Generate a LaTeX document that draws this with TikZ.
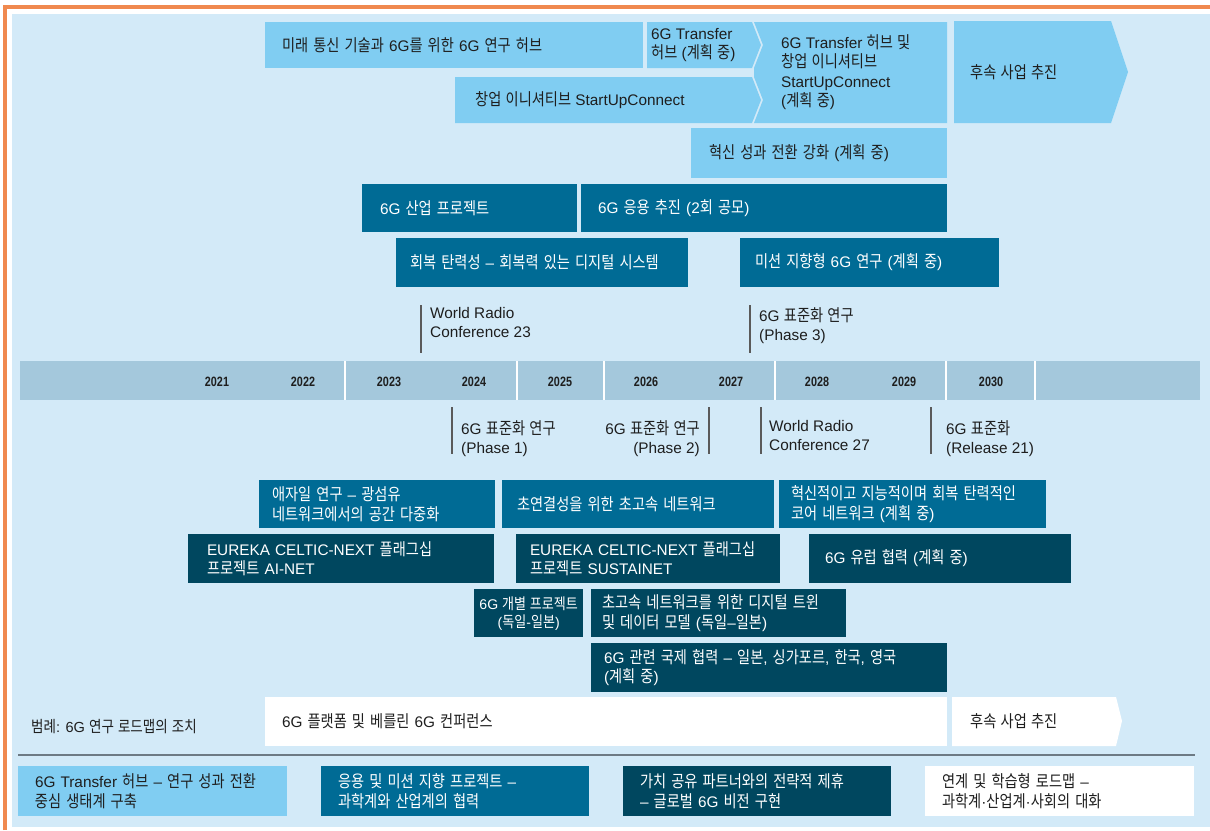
\documentclass[tikz,border=0pt]{standalone}
\usepackage{fontspec}
\setmainfont[Scale=1.08]{Liberation Sans}
\newfontfamily\krfont[Scale=1.18,FakeStretch=0.85]{Noto Sans CJK KR}
\newfontfamily\yearfont[FakeStretch=0.8]{Liberation Sans}
% Hangul syllables switch to the Korean font, the rest stays Latin
\XeTeXinterchartokenstate=1
\newXeTeXintercharclass\hangulcls
\newcount\hgc
\hgc="AC00
\loop
  \XeTeXcharclass\hgc=\hangulcls
  \ifnum\hgc<"D7A3 \advance\hgc by 1
\repeat
\XeTeXinterchartoks 0 \hangulcls = {\krfont}
\XeTeXinterchartoks 4095 \hangulcls = {\krfont}
\XeTeXinterchartoks \hangulcls 0 = {\rmfamily}
\XeTeXinterchartoks \hangulcls 4095 = {\rmfamily}
\usepackage{tikz}
\usetikzlibrary{positioning}
\definecolor{bgc}{HTML}{D3EAF8}
\definecolor{orng}{HTML}{F0894F}
\definecolor{skyc}{HTML}{80CDF2}
\definecolor{midc}{HTML}{006B95}
\definecolor{darkc}{HTML}{00475F}
\definecolor{barc}{HTML}{A4C8DC}
\definecolor{tickc}{HTML}{5A5A5A}
\definecolor{sepc}{HTML}{6D7A84}
\definecolor{txtc}{HTML}{1E1E1E}
\newcommand\boxfont{\fontsize{14.2}{19.5}\selectfont}
\tikzset{bx/.style n args={3}{anchor=north west,minimum height=#2pt,inner xsep=#3pt,inner ysep=0pt,outer sep=0pt,text width=#1pt-2*#3pt,align=left,font=\boxfont}}
\tikzset{skybox/.style={fill=skyc,text=txtc}}
\tikzset{midbox/.style={fill=midc,text=white}}
\tikzset{darkbox/.style={fill=darkc,text=white}}
\tikzset{whitebox/.style={fill=white,text=txtc}}
\tikzset{lbl/.style={anchor=west,align=left,inner sep=0pt,font=\boxfont,text=txtc}}
\tikzset{mile/.style={anchor=north west,align=left,inner sep=0pt,font=\boxfont,text=txtc}}
\tikzset{tick/.style={draw=tickc,line width=1.4pt}}
\tikzset{yr/.style={font=\yearfont\fontsize{13.5}{15}\selectfont\bfseries,text=txtc,inner sep=0pt}}

\begin{document}
\begin{tikzpicture}[x=1pt,y=-1pt]
    \useasboundingbox (0,0) rectangle (1210,830);
    \fill[bgc] (12,14) rectangle (1210,827);
    \draw[orng,line width=3.5pt] (5,830) -- (5,7) -- (1210,7);

    % top rows
    \node[bx={378}{46}{17},skybox] (hub) at (265,22) {미래 통신 기술과 6G를 위한 6G 연구 허브};
    \fill[skyc] (647,22) -- (752,22) -- (761,45) -- (752,68) -- (647,68) -- cycle;
    \node[lbl] (tfhub) at (651,45) {6G Transfer\\허브 (계획 중)};
    \fill[skyc] (455,77) -- (752,77) -- (761,100) -- (752,123) -- (455,123) -- cycle;
    \node[lbl] (suc) at (475,100) {창업 이니셔티브 StartUpConnect};
    \fill[skyc] (754,22) -- (947,22) -- (947,123) -- (754,123) -- (763,100) -- (754,77) -- (754,68) -- (763,45) -- cycle;
    \node[lbl] (tfsuc) at (781,72) {6G Transfer 허브 및\\창업 이니셔티브\\StartUpConnect\\(계획 중)};
    \fill[skyc] (954,21) -- (1111,21) -- (1128,72) -- (1111,123) -- (954,123) -- cycle;
    \node[lbl] (follow) at (970,72) {후속 사업 추진};
    \node[bx={256}{50}{18},skybox] (boost) at (691,128) {혁신 성과 전환 강화 (계획 중)};
    \node[bx={215}{48}{18},midbox] (indus) at (362,184) {6G 산업 프로젝트};
    \node[bx={366}{48}{17},midbox] (appl) at (581,184) {6G 응용 추진 (2회 공모)};
    \node[bx={292}{49}{14},midbox] (resil) at (396,238) {회복 탄력성 – 회복력 있는 디지털 시스템};
    \node[bx={259}{49}{15},midbox] (mission) at (740,238) {미션 지향형 6G 연구 (계획 중)};

    % milestones above
    \node[mile] (wrc23) at (430,307) {World Radio\\Conference 23};
    \draw[tick] (421,305) -- (421,353);
    \node[mile] (ph3) at (759,307) {6G 표준화 연구\\(Phase 3)};
    \draw[tick] (750,305) -- (750,353);

    % time bar
    \fill[barc] (20,361) rectangle (1200,400);
    \draw[white,line width=1.3pt] (345,361) -- (345,400) (517,361) -- (517,400) (604,361) -- (604,400)
        (775,361) -- (775,400) (946,361) -- (946,400) (1035,361) -- (1035,400);
    \node[yr] (y2021) at (217,382) {2021};
    \node[yr] (y2022) at (303,382) {2022};
    \node[yr] (y2023) at (389,382) {2023};
    \node[yr] (y2024) at (474,382) {2024};
    \node[yr] (y2025) at (560,382) {2025};
    \node[yr] (y2026) at (646,382) {2026};
    \node[yr] (y2027) at (731,382) {2027};
    \node[yr] (y2028) at (817,382) {2028};
    \node[yr] (y2029) at (904,382) {2029};
    \node[yr] (y2030) at (991,382) {2030};

    % milestones below
    \node[mile] (ph1) at (461,420) {6G 표준화 연구\\(Phase 1)};
    \draw[tick] (452,407) -- (452,454);
    \node[mile,anchor=north east,align=right] (ph2) at (700,420) {6G 표준화 연구\\(Phase 2)};
    \draw[tick] (709,407) -- (709,454);
    \node[mile] (wrc27) at (769,420) {World Radio\\Conference 27};
    \draw[tick] (761,407) -- (761,454);
    \node[mile] (rel21) at (946,420) {6G 표준화\\(Release 21)};
    \draw[tick] (931,407) -- (931,454);

    % bottom rows
    \node[bx={236}{48}{13},midbox] (agile) at (259,480) {애자일 연구 – 광섬유\\네트워크에서의 공간 다중화};
    \node[bx={272}{48}{15},midbox] (hyper) at (502,480) {초연결성을 위한 초고속 네트워크};
    \node[bx={267}{48}{12},midbox] (core) at (779,480) {혁신적이고 지능적이며 회복 탄력적인\\코어 네트워크 (계획 중)};
    \node[bx={306}{49}{19},darkbox] (ainet) at (188,534) {EUREKA CELTIC-NEXT 플래그십\\프로젝트 AI-NET};
    \node[bx={264}{49}{14},darkbox] (sustain) at (516,534) {EUREKA CELTIC-NEXT 플래그십\\프로젝트 SUSTAINET};
    \node[bx={262}{49}{16},darkbox] (eucoop) at (809,534) {6G 유럽 협력 (계획 중)};
    \node[darkbox,anchor=north west,minimum width=109pt,minimum height=48pt,inner sep=0pt,align=center,
        font=\fontsize{13}{18}\selectfont] (indiv) at (474,589) {6G 개별 프로젝트\\(독일-일본)};
    \node[bx={255}{48}{11},darkbox] (twin) at (591,589) {초고속 네트워크를 위한 디지털 트윈\\및 데이터 모델 (독일–일본)};
    \node[bx={356}{49}{13},darkbox] (intl) at (591,643) {6G 관련 국제 협력 – 일본, 싱가포르, 한국, 영국\\(계획 중)};

    % platform row
    \node[lbl,font=\fontsize{13.5}{16}\selectfont] (legend) at (31,727) {범례: 6G 연구 로드맵의 조치};
    \node[bx={682}{49}{17},whitebox] (platform) at (265,697) {6G 플랫폼 및 베를린 6G 컨퍼런스};
    \fill[white] (952,697) -- (1116,697) -- (1122,721) -- (1116,746) -- (952,746) -- cycle;
    \node[lbl] (follow2) at (970,721) {후속 사업 추진};
    \draw[sepc,line width=2.2pt] (18,755) -- (1195,755);

    % key
    \node[bx={269}{50}{17},skybox] (key1) at (18,766) {6G Transfer 허브 – 연구 성과 전환\\중심 생태계 구축};
    \node[bx={268}{50}{17},midbox] (key2) at (321,766) {응용 및 미션 지향 프로젝트 –\\과학계와 산업계의 협력};
    \node[bx={268}{50}{17},darkbox] (key3) at (623,766) {가치 공유 파트너와의 전략적 제휴\\– 글로벌 6G 비전 구현};
    \node[bx={269}{50}{17},whitebox] (key4) at (925,766) {연계 및 학습형 로드맵 –\\과학계·산업계·사회의 대화};
\end{tikzpicture}
\end{document}
